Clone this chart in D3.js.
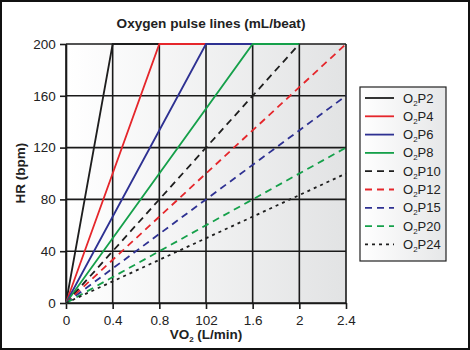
<!DOCTYPE html>
<html><head><meta charset="utf-8">
<script src="https://cdn.jsdelivr.net/npm/d3@7"></script>
<style>body{margin:0;background:#fff;} text{font-family:"Liberation Sans",Arial,sans-serif;fill:#222;}</style>
</head><body>
<svg id="c" width="470" height="350"></svg>
<script>
// Data
const seriesNames = ["O2P2","O2P4","O2P6","O2P8","O2P10","O2P12","O2P15","O2P20","O2P24"];
const seriesVO2 = [[0,0.4,0.8],[0,0.8,1.2],[0,1.2,1.6],[0,1.6,2.0],[0,2.0],[0,2.4],[0,2.4],[0,2.4],[0,2.4]];
const seriesHR  = [[0,200,200],[0,200,200],[0,200,200],[0,200,200],[0,200],[0,200],[0,160],[0,120],[0,100]];
const seriesColors = ["#1e1e1e","#e5262b","#2e3192","#15a04a","#1e1e1e","#e5262b","#2e3192","#15a04a","#1e1e1e"];
const seriesDash = ["","","","","7,5","7,5","7,5","7,5","3,4"];
const xTicks = [0,0.4,0.8,1.2,1.6,2.0,2.4];
const xTickLabels = ["0","0.4","0.8","102","1.6","2","2.4"];
const yTicks = [0,40,80,120,160,200];

const svg = d3.select("#c");
const L=66,R=346,T=44,B=303;
const x = d3.scaleLinear().domain([0,2.4]).range([L,R]);
const y = d3.scaleLinear().domain([0,200]).range([B,T]);

// outer frame
svg.append("rect").attr("x",1).attr("y",1).attr("width",468).attr("height",348)
  .attr("fill","#fff").attr("stroke","#111").attr("stroke-width",2);

const defs = svg.append("defs");
const g1 = defs.append("linearGradient").attr("id","bg").attr("x1","0").attr("x2","1").attr("y1","0").attr("y2","0");
g1.append("stop").attr("offset","0").attr("stop-color","#ffffff");
g1.append("stop").attr("offset","1").attr("stop-color","#e2e3e4");
const g2 = defs.append("linearGradient").attr("id","lg").attr("x1","0").attr("x2","1").attr("y1","0").attr("y2","0");
g2.append("stop").attr("offset","0").attr("stop-color","#ffffff");
g2.append("stop").attr("offset","1").attr("stop-color","#e6e7e8");

svg.append("rect").attr("x",L).attr("y",T).attr("width",R-L).attr("height",B-T).attr("fill","url(#bg)");

// title
svg.append("text").attr("x",211).attr("y",28).attr("text-anchor","middle")
  .style("font-size","13.6px").style("font-weight","bold").text("Oxygen pulse lines (mL/beat)");

// grid
svg.append("g").selectAll("line").data(xTicks).join("line")
  .attr("x1",d=>x(d)).attr("x2",d=>x(d)).attr("y1",T).attr("y2",B)
  .attr("stroke","#1a1a1a").attr("stroke-width",1.6);
svg.append("g").selectAll("line").data(yTicks).join("line")
  .attr("x1",L).attr("x2",R).attr("y1",d=>y(d)).attr("y2",d=>y(d))
  .attr("stroke","#1a1a1a").attr("stroke-width",1.6);

// axes
const xAxis = d3.axisBottom(x).tickValues(xTicks).tickFormat((d,i)=>xTickLabels[i]).tickSize(6).tickSizeOuter(0);
const gx = svg.append("g").attr("transform",`translate(0,${B})`).call(xAxis);
const yAxis = d3.axisLeft(y).tickValues(yTicks).tickSize(6).tickSizeOuter(0);
const gy = svg.append("g").attr("transform",`translate(${L},0)`).call(yAxis);
[gx,gy].forEach(g=>{
  g.select(".domain").attr("stroke","#1a1a1a").attr("stroke-width",1.6);
  g.selectAll(".tick line").attr("stroke","#1a1a1a").attr("stroke-width",1.6);
  g.selectAll(".tick text").style("font-size","13.5px").style("font-family","Liberation Sans, Arial, sans-serif").attr("fill","#222");
});
gx.selectAll(".tick text").attr("dy","0.95em");
gy.selectAll(".tick text").attr("dx","-0.1em");

// axis labels
const xl = svg.append("text").attr("x",206).attr("y",339).attr("text-anchor","middle")
  .style("font-size","13.5px").style("font-weight","bold");
xl.append("tspan").text("VO");
xl.append("tspan").attr("dy",3).style("font-size","8px").text("2");
xl.append("tspan").attr("dy",-3).text(" (L/min)");
svg.append("text").attr("transform","translate(25,173) rotate(-90)").attr("text-anchor","middle")
  .style("font-size","13.5px").style("font-weight","bold").text("HR (bpm)");

// lines
const line = d3.line().x(d=>x(d[0])).y(d=>y(d[1]));
seriesNames.forEach((n,i)=>{
  const pts = seriesVO2[i].map((v,j)=>[v,seriesHR[i][j]]);
  svg.append("path").attr("d",line(pts)).attr("fill","none")
    .attr("stroke",seriesColors[i]).attr("stroke-width",1.8)
    .attr("stroke-dasharray",seriesDash[i]||null);
});

// legend
const LX=360, LY=87;
svg.append("rect").attr("x",LX).attr("y",LY).attr("width",86).attr("height",174)
  .attr("fill","url(#lg)").attr("stroke","#222").attr("stroke-width",1.2);
seriesNames.forEach((n,i)=>{
  const yy = 98 + i*18.3;
  svg.append("line").attr("x1",365).attr("x2",394).attr("y1",yy).attr("y2",yy)
    .attr("stroke",seriesColors[i]).attr("stroke-width",1.8)
    .attr("stroke-dasharray",seriesDash[i]||null);
  const t = svg.append("text").attr("x",403).attr("y",yy+4.5).style("font-size","13px");
  t.append("tspan").text("O");
  t.append("tspan").attr("dy",3).style("font-size","8px").text("2");
  t.append("tspan").attr("dy",-3).text(n.slice(2));
});
</script>
</body></html>
